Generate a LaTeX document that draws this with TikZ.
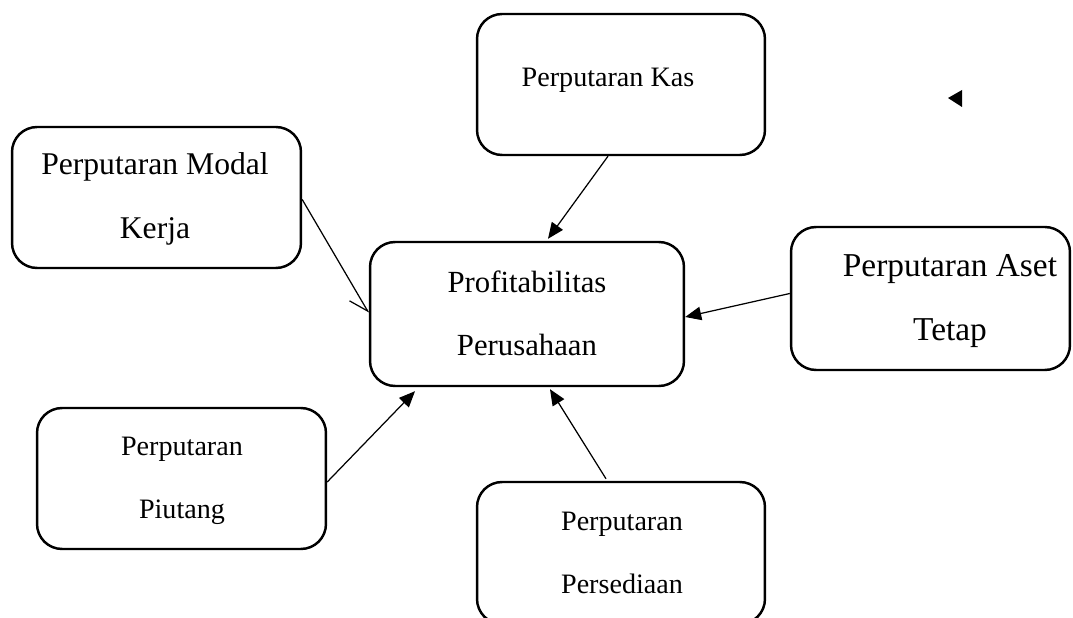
\documentclass[tikz,border=0pt]{standalone}
\usepackage{fontspec}
\setmainfont{Liberation Serif}
\usetikzlibrary{arrows.meta,calc}

\tikzset{
  kotak/.style={draw, line width=1.4pt, rounded corners=0.5cm, inner sep=0pt},
  teks/.style={align=center, font=\fontsize{16}{36}\selectfont},
  teksbesar/.style={align=center, font=\fontsize{18}{36}\selectfont},
  panah/.style={line width=0.7pt, -{Triangle[length=0.32cm,width=0.27cm]}},
}

\begin{document}
\begin{tikzpicture}[x=0.02cm, y=-0.02cm]
\useasboundingbox (0,0) rectangle (1073,618);

% kotak
\node [kotak, minimum width=5.76cm, minimum height=2.82cm] (kas) at (621,84.5) {};
\node [kotak, minimum width=5.78cm, minimum height=2.82cm] (modal) at (156.5,197.5) {};
\node [kotak, minimum width=6.28cm, minimum height=2.88cm] (profit) at (527,314) {};
\node [kotak, minimum width=5.58cm, minimum height=2.86cm] (aset) at (930.5,298.5) {};
\node [kotak, minimum width=5.78cm, minimum height=2.82cm] (piutang) at (181.5,478.5) {};
\node [kotak, minimum width=5.76cm, minimum height=2.84cm] (sedia) at (621,553) {};

% teks
\node [teks] (tkas) at (608,80) {Perputaran Kas};
\node [teksbesar] (tmodal) at (155,199) {Perputaran Modal\\Kerja};
\node [teksbesar, font=\fontsize{17.5}{36}\selectfont] (tprofit) at (527,313) {Profitabilitas\\Perusahaan};
\node [teksbesar, font=\fontsize{19}{36}\selectfont] (taset) at (950,301) {Perputaran Aset\\Tetap};
\node [teks] (tpiutang) at (182,481) {Perputaran\\Piutang};
\node [teks] (tsedia) at (622,553) {Perputaran\\Persediaan};

% panah
\draw [panah] ($(kas.south)+(-13,0)$) -- ($(profit.north)+(21,-2)$);
\draw [line width=0.7pt, -{Straight Barb[harpoon,swap,length=0.36cm,width=0.42cm]}] ($(modal.east)+(0,2)$) -- ($(profit.west)+(0,-1)$);
\draw [panah] ($(aset.west)+(0,-5)$) -- ($(profit.east)+(0,3)$);
\draw [panah] ($(piutang.east)+(0,3.5)$) -- ($(profit.south)+(-112,4)$);
\draw [panah] ($(sedia.north)+(-15,-2)$) -- ($(profit.south)+(23,2)$);

% segitiga
\fill (948,98) -- (962,90) -- (962,107) -- cycle;

\end{tikzpicture}
\end{document}
